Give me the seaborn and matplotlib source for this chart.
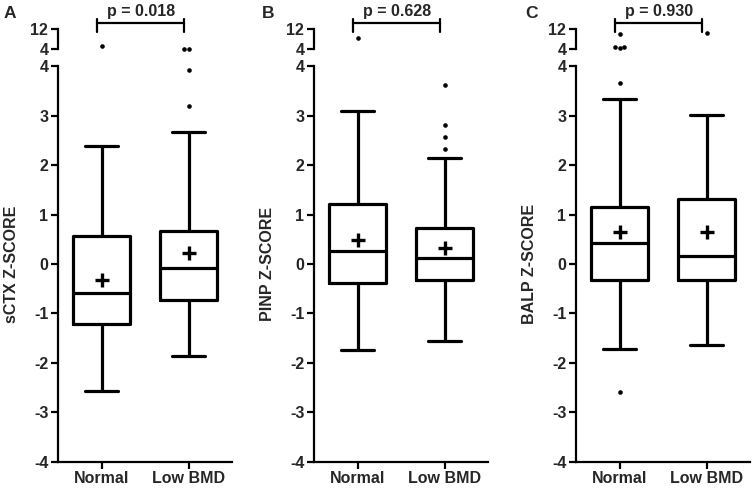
import numpy as np
import pandas as pd
import matplotlib
matplotlib.use("Agg")
import matplotlib.pyplot as plt
import seaborn as sns

# ---------------- data ----------------
panel_letters = ["A", "B", "C"]
ylabels = ["sCTX Z-SCORE", "PINP Z-SCORE", "BALP Z-SCORE"]
pvalues = ["p = 0.018", "p = 0.628", "p = 0.930"]
groups = ["Normal", "Low BMD"]

# five-number summaries: lower whisker, Q1, median, Q3, upper whisker
sctx_normal = [-2.56, -1.22, -0.59, 0.57, 2.39]
sctx_low = [-1.87, -0.73, -0.09, 0.67, 2.68]
pinp_normal = [-1.75, -0.38, 0.27, 1.21, 3.10]
pinp_low = [-1.56, -0.32, 0.12, 0.72, 2.14]
balp_normal = [-1.72, -0.32, 0.43, 1.15, 3.33]
balp_low = [-1.63, -0.32, 0.17, 1.32, 3.01]

# group means (+ markers)
sctx_means = [-0.32, 0.22]
pinp_means = [0.49, 0.33]
balp_means = [0.65, 0.65]

# individual outliers
sctx_out_normal = [5.4]
sctx_out_low = [4.1, 4.1, 3.92, 3.2]
pinp_out_normal = [8.5]
pinp_out_low = [3.62, 2.81, 2.56, 2.32]
balp_out_normal = [10.0, 5.0, 4.6, 5.0, 3.67, -2.58]
balp_out_low = [10.6]

summaries = [(sctx_normal, sctx_low), (pinp_normal, pinp_low), (balp_normal, balp_low)]
means = [sctx_means, pinp_means, balp_means]
outliers = [(sctx_out_normal, sctx_out_low), (pinp_out_normal, pinp_out_low),
            (balp_out_normal, balp_out_low)]

main_ticks = [-4, -3, -2, -1, 0, 1, 2, 3, 4]
break_ticks = [4, 12]

# ---------------- style ----------------
sns.set_style("ticks")
plt.rcParams["font.family"] = ["Liberation Sans", "DejaVu Sans"]
plt.rcParams["font.weight"] = "bold"
plt.rcParams["axes.labelweight"] = "bold"

W, H = 754, 488
fig = plt.figure(figsize=(W / 100, H / 100), dpi=100)


def rect(x0, width, ytop, ybot):
    return [x0 / W, 1 - ybot / H, width / W, (ybot - ytop) / H]


panel_x = [58, 314, 576]
panel_w = 174
FS = 11.5
LW = 2.3
SPW = 1.6

for i in range(3):
    x0 = panel_x[i]
    ax = fig.add_axes(rect(x0, panel_w, 66.3, 461.7))
    axt = fig.add_axes(rect(x0, panel_w, 29.3, 49.3))

    normal, low = summaries[i]
    df = pd.DataFrame({
        "group": [groups[0]] * len(normal) + [groups[1]] * len(low),
        "value": list(normal) + list(low),
    })
    box_kw = dict(data=df, x="group", y="value", order=groups, whis=(0, 100),
                  width=0.65, fill=False, color="black", linewidth=LW,
                  showfliers=False, ax=ax)
    try:
        sns.boxplot(capwidths=0.39, **box_kw)
    except TypeError:
        sns.boxplot(**box_kw)

    # means
    sns.scatterplot(x=groups, y=means[i], marker="+", s=95, linewidth=2.4,
                    color="black", ax=ax, zorder=5, legend=False)

    # outliers split between main and break axes
    on, ol = outliers[i]
    all_g = [groups[0]] * len(on) + [groups[1]] * len(ol)
    all_v = list(on) + list(ol)
    lo_g = [g for g, v in zip(all_g, all_v) if v <= 4]
    lo_v = [v for v in all_v if v <= 4]
    hi_g = [g for g, v in zip(all_g, all_v) if v > 4]
    hi_v = [v for v in all_v if v > 4]
    if lo_v:
        sns.swarmplot(x=lo_g, y=lo_v, order=groups, color="black", size=3.3,
                      ax=ax, zorder=4)
    if hi_v:
        sns.swarmplot(x=hi_g, y=hi_v, order=groups, color="black", size=3.3,
                      ax=axt, zorder=4, clip_on=False)

    # main axis formatting
    ax.set_xlim(-0.5, 1.5)
    ax.set_ylim(-4, 4)
    ax.set_yticks(main_ticks)
    ax.set_yticklabels([str(t) for t in main_ticks])
    ax.set_xticks([0, 1])
    ax.set_xticklabels(groups)
    ax.set_xlabel("")
    ax.set_ylabel(ylabels[i], fontsize=FS, fontweight="bold")
    ax.yaxis.set_label_coords(-39 / panel_w, 0.5)
    sns.despine(ax=ax)
    for s in ["left", "bottom"]:
        ax.spines[s].set_linewidth(SPW)
        ax.spines[s].set_color("black")
    ax.tick_params(axis="both", labelsize=FS, width=SPW, length=5, color="black",
                   pad=2)
    for lab in ax.get_xticklabels() + ax.get_yticklabels():
        lab.set_fontweight("bold")

    # break (upper) axis formatting
    axt.set_xlim(-0.5, 1.5)
    axt.set_ylim(4, 12)
    axt.set_yticks(break_ticks)
    axt.set_yticklabels([str(t) for t in break_ticks])
    axt.set_xlabel("")
    axt.set_ylabel("")
    axt.set_facecolor("none")
    for s in ["top", "right", "bottom"]:
        axt.spines[s].set_visible(False)
    axt.spines["left"].set_linewidth(SPW)
    axt.spines["left"].set_color("black")
    axt.tick_params(axis="y", labelsize=FS, width=SPW, length=5, color="black",
                    pad=2)
    axt.tick_params(axis="x", bottom=False, labelbottom=False)
    for lab in axt.get_yticklabels():
        lab.set_fontweight("bold")

    # significance bracket
    bx0, bx1 = -0.05, 0.95
    axt.plot([bx0, bx1], [14.4, 14.4], color="black", lw=1.6, clip_on=False)
    axt.plot([bx0, bx0], [10.8, 16.0], color="black", lw=1.6, clip_on=False)
    axt.plot([bx1, bx1], [10.8, 16.0], color="black", lw=1.6, clip_on=False)
    axt.text((bx0 + bx1) / 2, 19.3, pvalues[i], ha="center", va="center",
             fontsize=FS, fontweight="bold", clip_on=False)

letter_x = [10, 268, 531]
for i in range(3):
    fig.text(letter_x[i] / W, 1 - 13 / H, panel_letters[i], ha="center",
             va="center", fontsize=12.5, fontweight="bold")

fig.savefig("out.png", dpi=100)
